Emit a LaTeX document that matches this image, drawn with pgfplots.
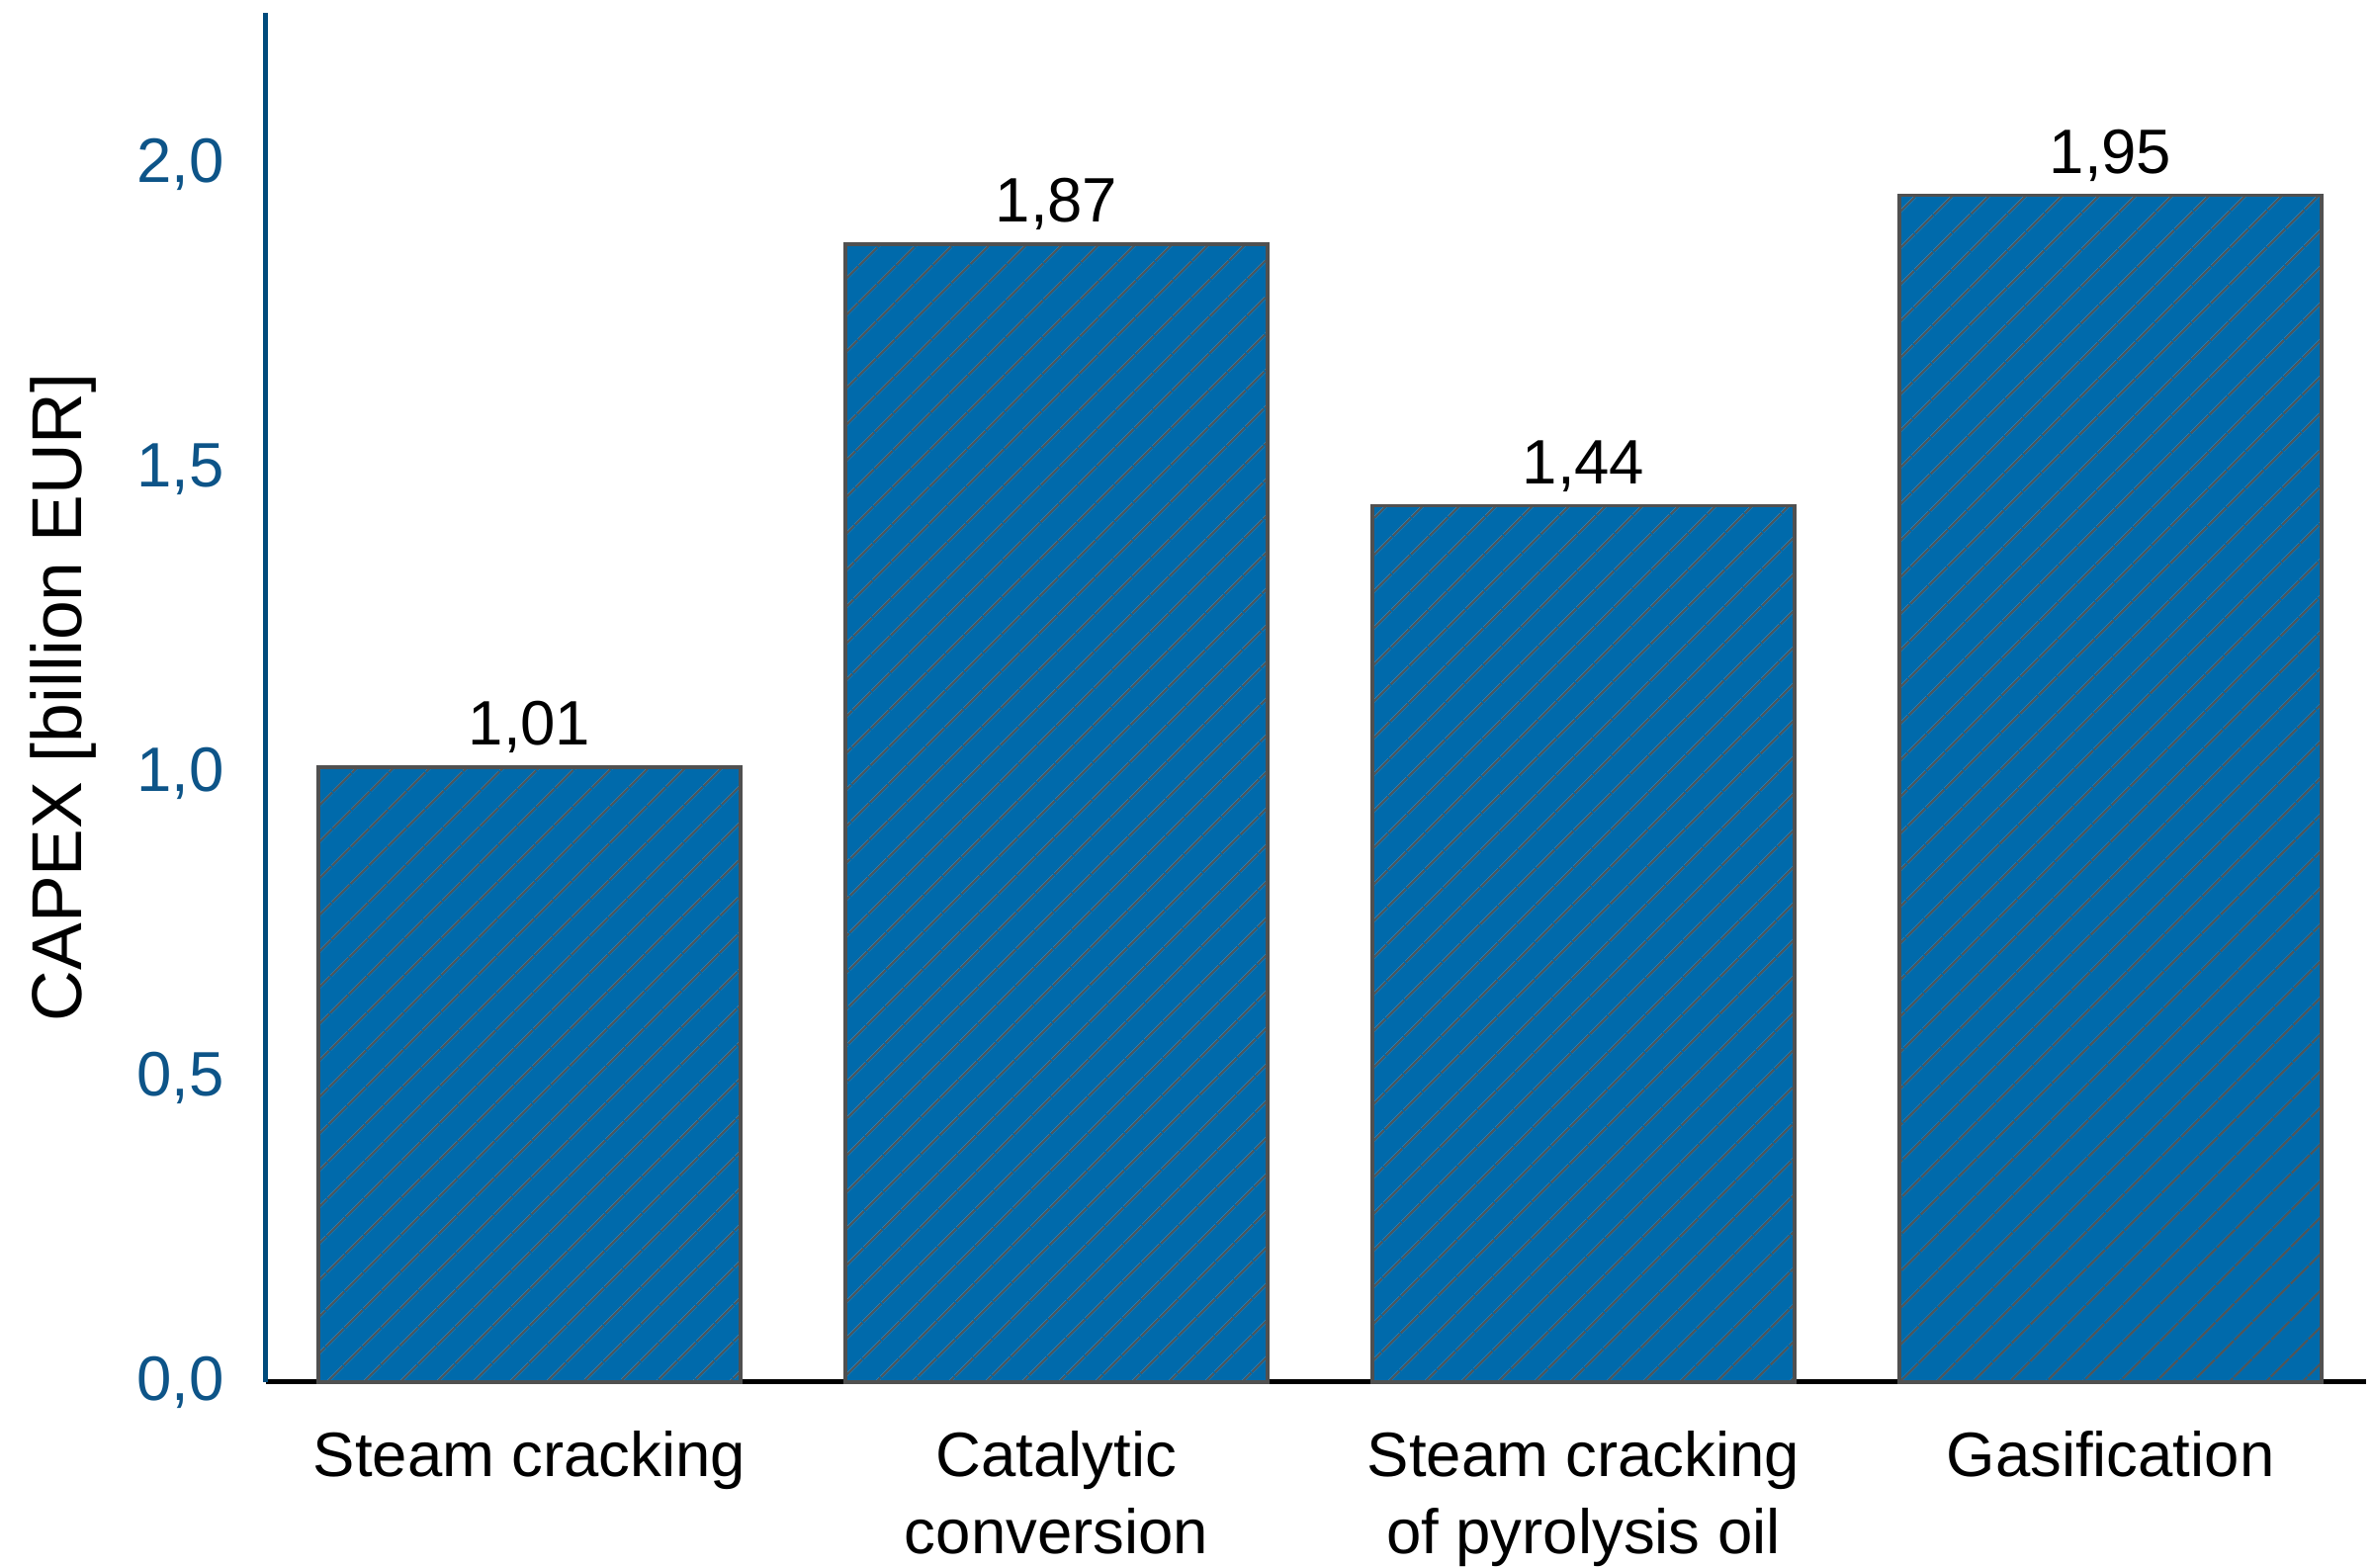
\documentclass[border=0pt]{standalone}
\usepackage{fontspec}
\setmainfont{Liberation Sans}
\usepackage{pgfplots}
\pgfplotsset{compat=1.18}
\usetikzlibrary{patterns.meta}
\definecolor{barblue}{HTML}{006AAB}
\definecolor{hatchgray}{HTML}{555555}
\definecolor{bordergray}{HTML}{505050}
\definecolor{ticklblue}{HTML}{0D5488}
\definecolor{axisblue}{HTML}{004B7C}
\begin{document}
\begin{tikzpicture}
\begin{axis}[
  at={(53.8pt,37.6pt)}, anchor=south west,
  scale only axis, width=424.8pt, height=277pt,
  xmin=-0.5, xmax=3.485, ymin=0, ymax=2.25,
  axis x line=bottom, axis y line=left,
  x axis line style={-, black, line width=1pt},
  y axis line style={-, axisblue, line width=1pt},
  major tick length=0pt,
  xtick={0,1,2,3},
  xticklabels={Steam cracking, Catalytic\\conversion, Steam cracking\\of pyrolysis oil, Gasification},
  xticklabel style={align=center, font=\fontsize{12.7}{15.6}\selectfont, yshift=-6.4pt},
  ytick={0,0.5,1,1.5,2},
  yticklabel style={font=\fontsize{12.7}{15.6}\selectfont, text=ticklblue, xshift=-5pt,
    /pgf/number format/.cd, fixed, fixed zerofill, precision=1, use comma, assume math mode=true},
  ylabel={CAPEX [billion EUR]},
  every axis y label/.style={at={(axis description cs:0,0.5)}, rotate=90, anchor=center, yshift=41pt, font=\fontsize{14.3}{17}\selectfont},
  nodes near coords={\pgfmathprintnumber[fixed, fixed zerofill, precision=2, use comma, assume math mode=true]{\pgfplotspointmeta}},
  every node near coord/.append style={font=\fontsize{12.7}{15.6}\selectfont, text=black, inner sep=2.5pt},
  clip=false,
]
\addplot[ybar, bar width=0.802, fill=barblue, draw=bordergray, line width=0.7pt,
  postaction={pattern={Lines[angle=45, distance=5.4pt, line width=0.45pt]}, pattern color=hatchgray}]
  coordinates {(0,1.01) (1,1.87) (2,1.44) (3,1.95)};
\end{axis}
\pgfresetboundingbox
\path[use as bounding box] (0,0) rectangle (480pt,317.2pt);
\end{tikzpicture}
\end{document}
